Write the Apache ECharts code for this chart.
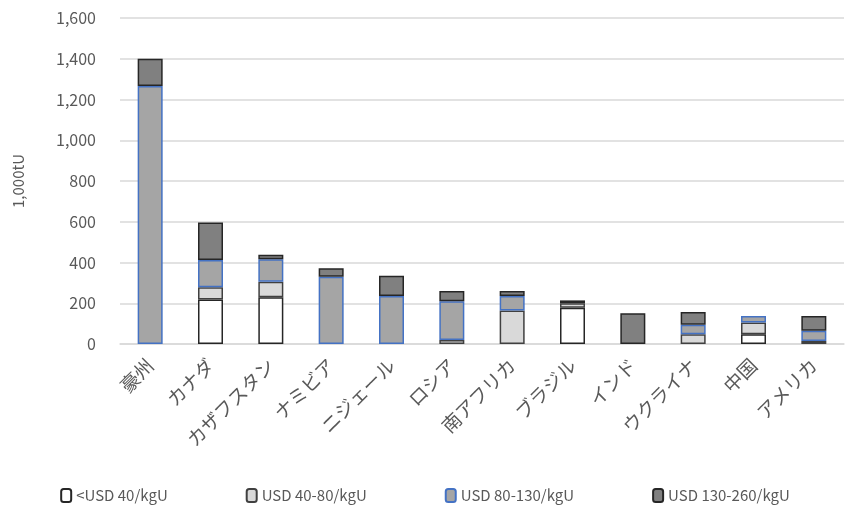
<!DOCTYPE html>
<html>
<head>
<meta charset="utf-8">
<script src="https://cdn.jsdelivr.net/npm/echarts@6/dist/echarts.min.js"></script>
<style>
  html, body { margin: 0; padding: 0; background: #fff; }
  #chart { width: 850px; height: 514px; }
</style>
</head>
<body>
<div id="chart"></div>
<script>
// Categories (countries)
const countries = ["豪州", "カナダ", "カザフスタン", "ナミビア", "ニジェール", "ロシア",
    "南アフリカ", "ブラジル", "インド", "ウクライナ", "中国", "アメリカ"];

// Resources by cost class, 1,000tU
const below40 = [0, 219, 229, 0, 0, 0, 0, 178, 0, 0, 48, 0];
const usd40to80 = [0, 59, 77, 0, 0, 20, 164, 22, 0, 48, 57, 15];
const usd80to130 = [1266, 134, 110, 330, 236, 190, 72, 0, 0, 47, 33, 50];
const usd130to260 = [134, 184, 22, 42, 99, 50, 24, 14, 151, 62, 0, 72];

const seriesNames = ["<USD 40/kgU", "USD 40-80/kgU", "USD 80-130/kgU", "USD 130-260/kgU"];

const font = "'Noto Sans CJK JP', 'Noto Sans', sans-serif";
const textColor = "#595959";

const chart = echarts.init(document.getElementById("chart"));

function bar(name, data, fill, border) {
    return {
        name: name,
        type: "bar",
        stack: "total",
        barWidth: 25,
        // empty segments are skipped so they draw no outline
        data: data.map((v) => (v === 0 ? "-" : v)),
        itemStyle: { color: fill, borderColor: border, borderWidth: 1.5 },
    };
}

chart.setOption({
    animation: false,
    textStyle: { fontFamily: font },
    grid: { left: 120, right: 6, top: 18, bottom: 170 },
    legend: {
        bottom: 6,
        left: "center",
        itemGap: 78,
        itemWidth: 10,
        itemHeight: 13,
        textStyle: { fontSize: 15, color: textColor, fontFamily: font },
        data: seriesNames,
    },
    xAxis: {
        type: "category",
        data: countries,
        axisLine: { lineStyle: { color: "#d9d9d9", width: 1.5 } },
        axisTick: { show: false },
        axisLabel: {
            rotate: 45,
            fontSize: 19,
            color: textColor,
            interval: 0,
            margin: 18,
        },
    },
    yAxis: {
        type: "value",
        min: 0,
        max: 1600,
        interval: 200,
        name: "1,000tU",
        nameLocation: "middle",
        nameRotate: 90,
        nameGap: 94,
        nameTextStyle: { fontSize: 15, color: textColor },
        axisLabel: {
            fontSize: 16,
            color: textColor,
            margin: 24,
            formatter: (v) => v.toLocaleString("en-US"),
        },
        splitLine: { lineStyle: { color: "#d9d9d9", width: 1.5 } },
    },
    series: [
        bar(seriesNames[0], below40, "#ffffff", "#262626"),
        bar(seriesNames[1], usd40to80, "#d9d9d9", "#404040"),
        bar(seriesNames[2], usd80to130, "#a5a5a5", "#4472c4"),
        bar(seriesNames[3], usd130to260, "#808080", "#262626"),
    ],
});
</script>
</body>
</html>
